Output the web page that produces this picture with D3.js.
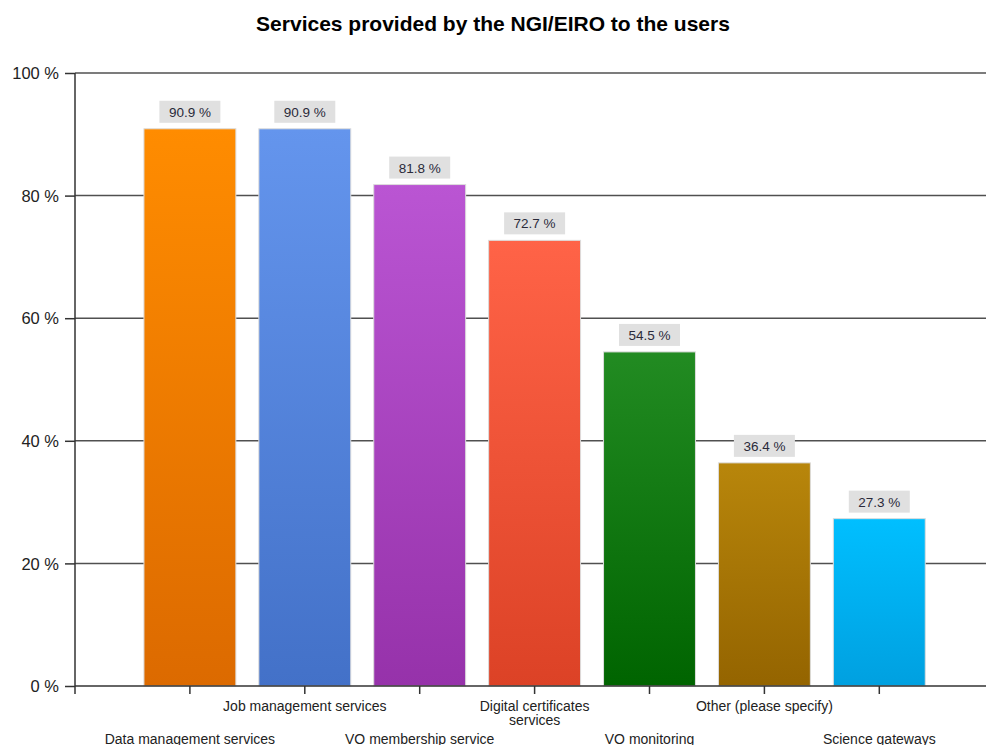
<!DOCTYPE html>
<html>
<head>
<meta charset="utf-8">
<script src="https://cdn.jsdelivr.net/npm/d3@7"></script>
<style>
  html, body { margin: 0; padding: 0; background: #fff; }
  svg { display: block; }
</style>
</head>
<body>
<svg id="chart" width="986" height="745"></svg>
<script>
const title = "Services provided by the NGI/EIRO to the users";
const categories = [
  "Data management services",
  "Job management services",
  "VO membership service",
  "Digital certificates services",
  "VO monitoring",
  "Other (please specify)",
  "Science gateways"
];
const labelLines = [
  ["Data management services"],
  ["Job management services"],
  ["VO membership service"],
  ["Digital certificates", "services"],
  ["VO monitoring"],
  ["Other (please specify)"],
  ["Science gateways"]
];
const values = [90.9, 90.9, 81.8, 72.7, 54.5, 36.4, 27.3];
const topColors = ["#FF8C00", "#6495ED", "#BA55D3", "#FF6347", "#228B22", "#B8860B", "#00BFFF"];
const bottomColors = ["#DC6A00", "#4371C8", "#9632AA", "#DC4226", "#006400", "#946400", "#00A0E0"];
const yTicks = [0, 20, 40, 60, 80, 100];

(function () {
const svg = d3.select("#chart");
const mLeft = 75, mTop = 73, mBottom = 686;
const step = 114.9;
const font = "'Liberation Sans', Arial, sans-serif";

// x: linear axis 0..8, categories at 1..7 (MS Chart style)
const x = d3.scaleLinear().domain([0, 8]).range([mLeft, mLeft + 8 * step]);
const y = d3.scaleLinear().domain([0, 100]).range([mBottom, mTop]);
const barW = 0.8 * step;

// gradients
const defs = svg.append("defs");
categories.forEach((c, i) => {
  const g = defs.append("linearGradient").attr("id", "g" + i)
    .attr("x1", 0).attr("y1", 0).attr("x2", 0).attr("y2", 1);
  g.append("stop").attr("offset", "0%").attr("stop-color", topColors[i]);
  g.append("stop").attr("offset", "100%").attr("stop-color", bottomColors[i]);
});

// title
svg.append("text")
  .attr("x", 493).attr("y", 31)
  .attr("text-anchor", "middle")
  .attr("font-family", font)
  .attr("font-weight", "bold")
  .attr("font-size", 21)
  .attr("fill", "#000")
  .text(title);

// gridlines
svg.append("g").selectAll("line")
  .data(yTicks.filter(d => d > 0))
  .join("line")
  .attr("x1", mLeft).attr("x2", 986)
  .attr("y1", d => y(d)).attr("y2", d => y(d))
  .attr("stroke", "#505050").attr("stroke-width", 1.5);

// y axis
const yAxis = d3.axisLeft(y).tickValues(yTicks).tickSize(10).tickPadding(6)
  .tickFormat(d => d + " %");
const yg = svg.append("g").attr("transform", `translate(${mLeft},0)`).call(yAxis);
yg.select(".domain").remove();
yg.selectAll(".tick line").attr("stroke", "#333").attr("stroke-width", 1.5);
yg.selectAll(".tick text")
  .attr("font-family", font).attr("font-size", 16.5).attr("fill", "#222")
  .attr("dy", "0.35em");

// bars
svg.append("g").selectAll("rect")
  .data(values)
  .join("rect")
  .attr("x", (d, i) => x(i + 1) - barW / 2)
  .attr("width", barW)
  .attr("y", d => y(d))
  .attr("height", d => mBottom - y(d))
  .attr("fill", (d, i) => `url(#g${i})`)
  .attr("stroke", "#dcdcdc").attr("stroke-width", 1);

// value labels
const lbl = svg.append("g").selectAll("g")
  .data(values)
  .join("g")
  .attr("transform", (d, i) => `translate(${x(i + 1)},${y(d) - 6})`);
lbl.append("rect")
  .attr("x", -30.5).attr("y", -22).attr("width", 61).attr("height", 22)
  .attr("fill", "#e0e0e0");
lbl.append("text")
  .attr("y", -6)
  .attr("text-anchor", "middle")
  .attr("font-family", font).attr("font-size", 13.5)
  .attr("fill", "#2a2a3a")
  .text(d => d.toFixed(1) + " %");

// x axis line
svg.append("line")
  .attr("x1", mLeft).attr("x2", 986)
  .attr("y1", mBottom).attr("y2", mBottom)
  .attr("stroke", "#333").attr("stroke-width", 1.5);
// y axis line
svg.append("line")
  .attr("x1", mLeft).attr("x2", mLeft)
  .attr("y1", mTop).attr("y2", mBottom)
  .attr("stroke", "#333").attr("stroke-width", 1.5);

// x ticks (at 0..7)
svg.append("g").selectAll("line")
  .data(d3.range(0, 8))
  .join("line")
  .attr("x1", d => x(d)).attr("x2", d => x(d))
  .attr("y1", mBottom).attr("y2", mBottom + 8)
  .attr("stroke", "#333").attr("stroke-width", 1.5);

// x labels (staggered)
const xl = svg.append("g").selectAll("text")
  .data(labelLines)
  .join("text")
  .attr("text-anchor", "middle")
  .attr("font-family", font).attr("font-size", 14)
  .attr("fill", "#222")
  .attr("transform", (d, i) => `translate(${x(i + 1)},${i % 2 === 1 ? 711 : 744})`);
xl.selectAll("tspan")
  .data(d => d)
  .join("tspan")
  .attr("x", 0)
  .attr("dy", (d, j) => j === 0 ? 0 : 13.5)
  .text(d => d);
})();
</script>
</body>
</html>
